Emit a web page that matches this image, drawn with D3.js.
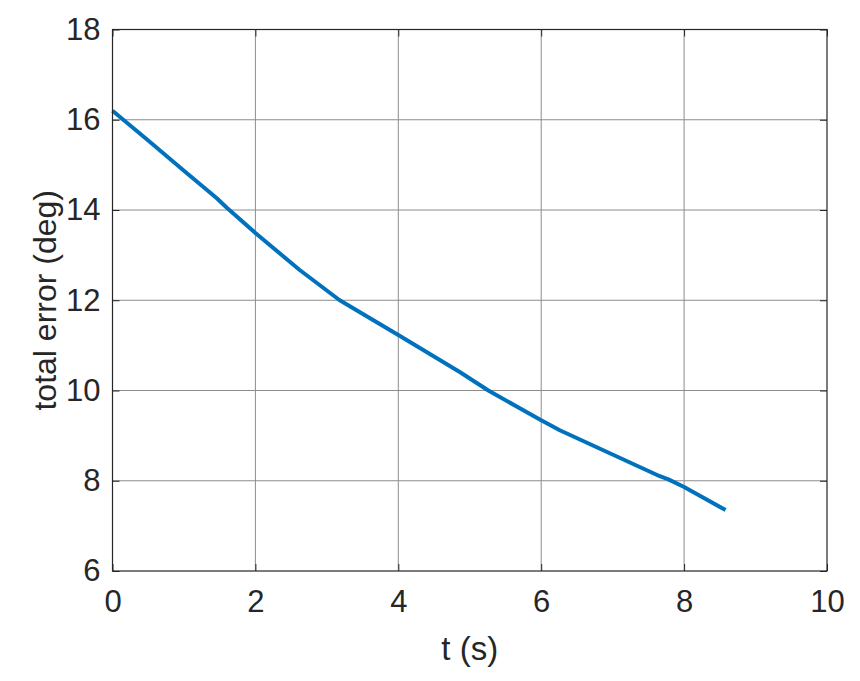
<!DOCTYPE html>
<html>
<head>
<meta charset="utf-8">
<script src="https://cdn.jsdelivr.net/npm/d3@7"></script>
<style>
  body { margin: 0; background: #fff; }
  svg { display: block; font-family: "Liberation Sans", Arial, sans-serif; }
</style>
</head>
<body>
<div id="chart"></div>
<script>
// data
const timeValues = [0, 0.5, 1.0, 1.46, 1.6, 2.0, 2.62, 3.18, 4.0, 4.86, 5.26, 6.0, 6.26, 6.96, 7.66, 7.78, 8.0, 8.58];
const errorValues = [16.2, 15.54, 14.87, 14.26, 14.05, 13.49, 12.67, 12.0, 11.23, 10.41, 10.0, 9.34, 9.12, 8.61, 8.10, 8.03, 7.86, 7.35];
const xTicks = [0, 2, 4, 6, 8, 10];
const yTicks = [6, 8, 10, 12, 14, 16, 18];

const width = 860, height = 681;
const margins = { top: 29.5, right: 33, bottom: 110, left: 112.5 };
const innerWidth = width - margins.left - margins.right;
const innerHeight = height - margins.top - margins.bottom;

const svg = d3.select('#chart').append('svg')
    .attr('width', width)
    .attr('height', height);

const g = svg.append('g')
    .attr('transform', `translate(${margins.left}, ${margins.top})`);

const x = d3.scaleLinear().domain([0, 10]).range([0, innerWidth]);
const y = d3.scaleLinear().domain([6, 18]).range([innerHeight, 0]);

//GRID
g.append('g').selectAll('line').data(xTicks.slice(1, -1)).enter()
    .append('line')
    .attr('x1', d => x(d)).attr('x2', d => x(d))
    .attr('y1', 0).attr('y2', innerHeight)
    .attr('stroke', '#8c8c8c').attr('stroke-width', 1);

g.append('g').selectAll('line').data(yTicks.slice(1, -1)).enter()
    .append('line')
    .attr('y1', d => y(d)).attr('y2', d => y(d))
    .attr('x1', 0).attr('x2', innerWidth)
    .attr('stroke', '#8c8c8c').attr('stroke-width', 1);

//LINE
const line = d3.line()
    .x((d, i) => x(timeValues[i]))
    .y(d => y(d));

g.append('path')
    .datum(errorValues)
    .attr('d', line)
    .attr('fill', 'none')
    .attr('stroke', '#0072BD')
    .attr('stroke-width', 4)
    .attr('stroke-linejoin', 'round');

//AXES (ticks inward, box)
const tickLen = 7;
const styleAxis = sel => {
    sel.select('.domain').remove();
    sel.selectAll('line').attr('stroke', '#262626').attr('stroke-width', 1);
    sel.selectAll('text').attr('fill', '#262626').style('font-size', '31px');
};

g.append('g').attr('transform', `translate(0, ${innerHeight})`)
    .call(d3.axisBottom(x).tickValues(xTicks).tickSize(-tickLen).tickPadding(19).tickFormat(d3.format('d')))
    .call(styleAxis);

g.append('g')
    .call(d3.axisTop(x).tickValues(xTicks).tickSize(-tickLen).tickFormat(''))
    .call(styleAxis)
    .selectAll('text').remove();

g.append('g')
    .call(d3.axisLeft(y).tickValues(yTicks).tickSize(-tickLen).tickPadding(12).tickFormat(d3.format('d')))
    .call(styleAxis);

g.append('g').attr('transform', `translate(${innerWidth}, 0)`)
    .call(d3.axisRight(y).tickValues(yTicks).tickSize(-tickLen).tickFormat(''))
    .call(styleAxis)
    .selectAll('text').remove();

g.append('rect')
    .attr('width', innerWidth).attr('height', innerHeight)
    .attr('fill', 'none')
    .attr('stroke', '#262626').attr('stroke-width', 1.2);

//LABELS
svg.append('text')
    .attr('x', margins.left + innerWidth / 2)
    .attr('y', 660)
    .attr('text-anchor', 'middle')
    .attr('fill', '#262626')
    .style('font-size', '33px')
    .text('t (s)');

svg.append('text')
    .attr('transform', `translate(56, ${margins.top + innerHeight / 2}) rotate(-90)`)
    .attr('text-anchor', 'middle')
    .attr('fill', '#262626')
    .style('font-size', '32px')
    .text('total error (deg)');
</script>
</body>
</html>
